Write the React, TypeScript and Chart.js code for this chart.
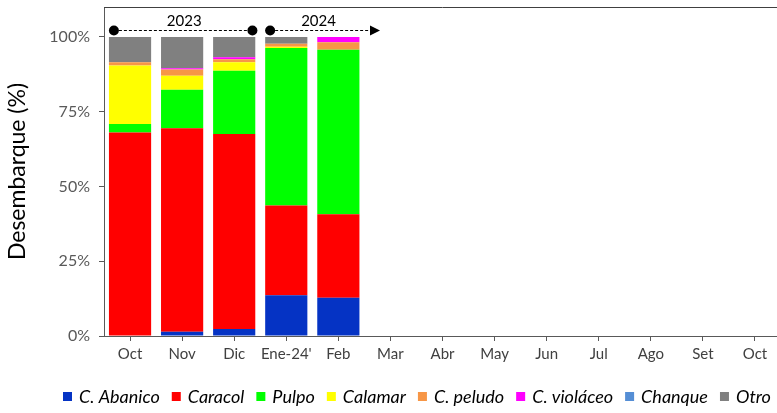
import React, { useEffect, useRef } from "react";
import { Chart, registerables } from "chart.js";

Chart.register(...registerables);

const categories = ["Oct", "Nov", "Dic", "Ene-24'", "Feb", "Mar", "Abr", "May", "Jun", "Jul", "Ago", "Set", "Oct"];

const abanico = [0, 1.4, 2.3, 13.6, 12.8, null, null, null, null, null, null, null, null];
const caracol = [68.0, 68.1, 65.2, 30.0, 27.9, null, null, null, null, null, null, null, null];
const pulpo = [2.9, 12.8, 21.2, 52.7, 55.0, null, null, null, null, null, null, null, null];
const calamar = [19.5, 4.7, 2.8, 0.4, 0, null, null, null, null, null, null, null, null];
const peludo = [1.1, 2.1, 1.0, 1.0, 2.5, null, null, null, null, null, null, null, null];
const violaceo = [0, 0.4, 0.7, 0, 1.8, null, null, null, null, null, null, null, null];
const chanque = [0, 0, 0, 0, 0, null, null, null, null, null, null, null, null];
const otro = [8.5, 10.5, 6.8, 2.3, 0, null, null, null, null, null, null, null, null];

const seriesNames = ["C. Abanico", "Caracol", "Pulpo", "Calamar", "C. peludo", "C. violáceo", "Chanque", "Otro"];
const seriesColors = ["#0533c4", "#ff0000", "#00ff00", "#ffff00", "#f79646", "#ff00ff", "#558ed5", "#808080"];
const seriesValues = [abanico, caracol, pulpo, calamar, peludo, violaceo, chanque, otro];

const yTicks = [0, 25, 50, 75, 100];
const yearLabels = ["2023", "2024"];

const FONT = "Lato, 'Open Sans', sans-serif";

const overlayPlugin = {
  id: "overlay",
  afterDraw(chart: any) {
    const { ctx, chartArea, scales } = chart;
    const x = scales.x;
    const y = scales.y;
    ctx.save();
    // top frame line
    ctx.strokeStyle = "#404040";
    ctx.lineWidth = 1;
    ctx.beginPath();
    ctx.moveTo(chartArea.left, chartArea.top + 0.5);
    ctx.lineTo(chartArea.right, chartArea.top + 0.5);
    ctx.stroke();

    // year spans
    const step = x.getPixelForValue(1) - x.getPixelForValue(0);
    const px = (i: number) => x.getPixelForValue(0) + i * step;
    const lineY = Math.round(y.getPixelForValue(102.4)) + 0.5;
    const textY = y.getPixelForValue(105.4);
    const spans = [
      { label: yearLabels[0], from: -0.31, to: 2.35, text: 1.04, arrow: false },
      { label: yearLabels[1], from: 2.69, to: 4.8, text: 3.62, arrow: true },
    ];
    ctx.fillStyle = "#000";
    ctx.strokeStyle = "#000";
    for (const s of spans) {
      const x1 = px(s.from);
      const x2 = px(s.to);
      ctx.setLineDash([3, 2]);
      ctx.beginPath();
      ctx.moveTo(x1, lineY);
      ctx.lineTo(s.arrow ? x2 - 8 : x2, lineY);
      ctx.stroke();
      ctx.setLineDash([]);
      ctx.beginPath();
      ctx.arc(x1, lineY, 5, 0, Math.PI * 2);
      ctx.fill();
      if (s.arrow) {
        ctx.beginPath();
        ctx.moveTo(x2, lineY);
        ctx.lineTo(x2 - 10, lineY - 5);
        ctx.lineTo(x2 - 10, lineY + 5);
        ctx.closePath();
        ctx.fill();
      } else {
        ctx.beginPath();
        ctx.arc(x2, lineY, 5, 0, Math.PI * 2);
        ctx.fill();
      }
      ctx.font = "15px " + FONT;
      ctx.textAlign = "center";
      ctx.textBaseline = "middle";
      ctx.fillText(s.label, px(s.text), textY);
    }

    // legend
    ctx.font = "italic 18px " + FONT;
    ctx.textBaseline = "middle";
    ctx.textAlign = "left";
    let lx = chartArea.left - 41;
    const ly = chart.height - 16;
    seriesNames.forEach((name, i) => {
      ctx.fillStyle = seriesColors[i];
      ctx.fillRect(lx, ly - 5, 9, 9);
      lx += 16;
      ctx.fillStyle = "#000";
      ctx.fillText(name, lx, ly);
      lx += ctx.measureText(name).width + 12;
    });
    ctx.restore();
  },
};

export default function App() {
  const ref = useRef<HTMLCanvasElement>(null);
  useEffect(() => {
    if (!ref.current) return;
    const chart = new Chart(ref.current, {
      type: "bar",
      data: {
        labels: categories,
        datasets: seriesNames.map((name, i) => ({
          label: name,
          data: seriesValues[i],
          backgroundColor: seriesColors[i],
          borderWidth: 0,
          barPercentage: 0.81,
          categoryPercentage: 1,
        })),
      },
      options: {
        animation: false,
        responsive: false,
        maintainAspectRatio: false,
        layout: { padding: { left: 0, right: 0, top: 7, bottom: 40 } },
        plugins: {
          legend: { display: false },
          tooltip: { enabled: false },
        },
        scales: {
          x: {
            stacked: true,
            grid: { drawOnChartArea: false, offset: false, tickLength: 5, color: "#595959" },
            border: { color: "#595959", width: 1 },
            ticks: { color: "#404040", font: { family: FONT, size: 15 }, padding: 4, maxRotation: 0, autoSkip: false },
            afterFit: (s: any) => { s.height = 37; s.paddingLeft = 0; s.paddingRight = 0; },
          },
          y: {
            stacked: true,
            min: 0,
            max: 110,
            afterBuildTicks: (s: any) => { s.ticks = yTicks.map((v) => ({ value: v })); },
            grid: { drawOnChartArea: false, tickLength: 5, color: "#595959" },
            border: { color: "#595959", width: 1 },
            ticks: {
              color: "#595959",
              font: { family: FONT, size: 16 },
              padding: 9,
              callback: (v: any) => v + "%",
            },
            title: {
              display: true,
              text: "Desembarque (%)",
              color: "#000",
              font: { family: FONT, size: 23 },
              padding: { top: 4, bottom: 0 },
            },
            afterFit: (s: any) => { s.width = 104; s.paddingTop = 0; s.paddingBottom = 0; },
          },
        },
      },
      plugins: [overlayPlugin],
    });
    return () => chart.destroy();
  }, []);
  return (
    <div style={{ position: "fixed", left: 0, top: 0, width: 777, height: 413, overflow: "hidden", background: "#fff" }}>
      <canvas ref={ref} width={781} height={413} style={{ display: "block" }} />
    </div>
  );
}
